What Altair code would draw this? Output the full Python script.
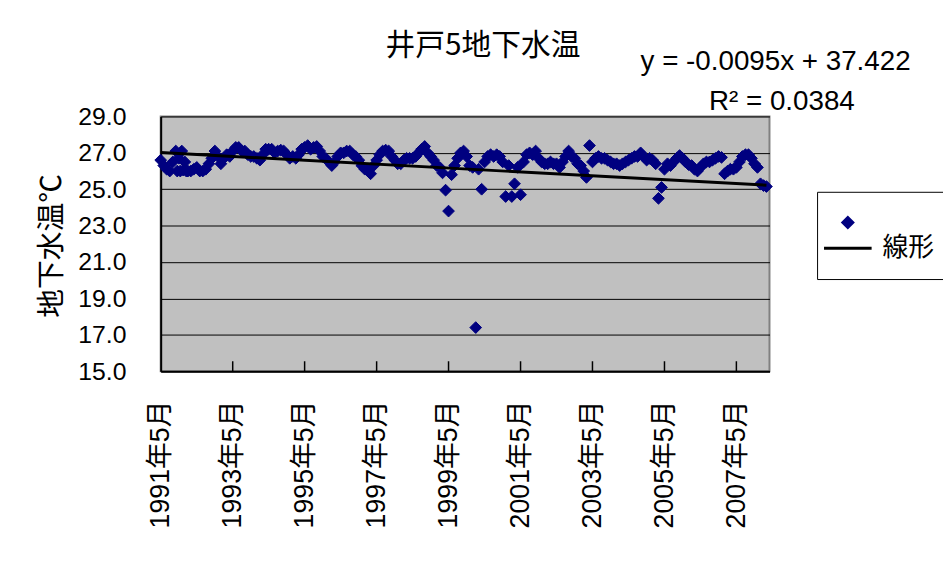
import altair as alt
import pandas as pd

# monthly groundwater temperature (deg C), from 1991-05 onward
temps = [
    26.6, 26.3, 26.1, 26.0, 26.5, 27.1, 26.7, 27.1, 26.5, 26.0, 26.0, 26.1,
    26.2, 26.0, 26.0, 26.1, 26.4, 26.7, 27.1, 26.8, 26.4, 26.7, 26.9, 26.8,
    27.1, 27.3, 27.3, 27.1, 27.1, 26.9, 26.8, 26.8, 26.7, 26.6, 26.9, 27.2,
    27.2, 27.2, 27.0, 27.1, 27.15, 27.1, 26.9, 26.7, 26.8, 26.7, 26.9, 27.2,
    27.3, 27.4, 27.2, 27.3, 27.35, 27.1, 26.8, 26.7, 26.5, 26.3, 26.5, 26.8,
    27.0, 27.0, 27.1, 27.1, 26.9, 26.8, 26.6, 26.3, 26.1, 26.0, 25.85, 26.3,
    26.6, 26.9, 27.1, 27.15, 27.1, 26.8, 26.6, 26.4, 26.4, 26.6, 26.7, 26.7,
    26.7, 26.8, 27.0, 27.2, 27.35, 27.0, 26.8, 26.6, 26.3, 26.2, 25.9, 24.95,
    23.8, 25.8, 26.3, 26.7, 27.0, 27.1, 26.8, 26.3, 26.2, 17.4, 26.1, 25.0,
    26.5, 26.8, 26.9, 26.8, 26.9, 26.8, 26.5, 24.6, 26.3, 24.6, 25.3, 26.2,
    24.7, 26.5, 26.9, 27.0, 26.9, 27.1, 26.7, 26.5, 26.4, 26.4, 26.5, 26.4,
    26.4, 26.2, 26.5, 26.8, 27.1, 26.8, 26.7, 26.4, 26.3, 26.0, 25.65, 27.4,
    26.5, 26.7, 26.8, 26.7, 26.7, 26.6, 26.5, 26.4, 26.4, 26.3, 26.4, 26.5,
    26.6, 26.7, 26.8, 26.8, 27.0, 26.8, 26.6, 26.7, 26.6, 26.4, 24.5, 25.1,
    26.1, 26.4, 26.3, 26.5, 26.7, 26.85, 26.7, 26.5, 26.35, 26.3, 26.1, 26.0,
    26.2, 26.4, 26.5, 26.5, 26.6, 26.7, 26.8, 26.75, 25.85, 26.0, 26.1, 26.1,
    26.2, 26.5, 26.8, 26.9, 26.9, 26.7, 26.4, 26.2, 25.3, 25.2, 25.15,
]
month_dates = pd.date_range("1991-05-01", periods=len(temps), freq="MS").strftime("%Y-%m-%d").tolist()

# additional mid-month readings
extra_dates = ["1991-10-16", "1991-11-16", "1991-12-16", "1992-01-16"]
extra_temps = [26.0, 26.0, 26.05, 26.0]

# linear trend (線形) end points
trend_dates = ["1991-05-01", "2008-03-01"]
trend_temps = [27.02, 25.22]

label_years = [1991, 1993, 1995, 1997, 1999, 2001, 2003, 2005, 2007]
tick_dates = ["1993-05-01", "1995-05-01", "1997-05-01", "1999-05-01",
              "2001-05-01", "2003-05-01", "2005-05-01", "2007-05-01"]
y_ticks = [15, 17, 19, 21, 23, 25, 27, 29]

title_text = "井戸5地下水温"
y_title = "地下水温℃"
eq_lines = ["y = -0.0095x + 37.422", "R² = 0.0384"]
series_names = ["s1", "線形"]

NAVY = "#000080"
FONT = "Liberation Sans, Noto Sans CJK JP"
CJK = "Noto Sans CJK JP"

pts = pd.DataFrame({
    "date": month_dates + extra_dates,
    "temp": temps + extra_temps,
    "series": "s1",
})
trend = pd.DataFrame({"date": trend_dates, "temp": trend_temps})
ticks = pd.DataFrame({"date": tick_dates, "y0": 15.0, "y1": 15.55})

x_scale = alt.Scale(
    type="utc",
    domain=[alt.DateTime(year=1991, month=5, date=1, utc=True),
            alt.DateTime(year=2008, month=4, date=1, utc=True)],
    nice=False,
)
y_scale = alt.Scale(domain=[15, 29], nice=False, zero=False)

x_axis = alt.Axis(
    values=[alt.DateTime(year=y, month=5, date=1, utc=True) for y in label_years],
    tickCount=20,
    labelExpr="utcFormat(datum.value, '%Y') + '年' + (utcmonth(datum.value) + 1) + '月'",
    labelAngle=270, labelAlign="right", labelBaseline="middle",
    labelPadding=29, labelFlush=False, labelOverlap=False,
    labelFont=FONT, labelFontSize=27, labelColor="black",
    ticks=False, grid=False, domainColor="black", domainWidth=2, title=None,
)
y_axis = alt.Axis(
    values=y_ticks, tickCount=20, format=".1f",
    labelPadding=35, labelFlush=False, labelOverlap=False,
    labelFont=FONT, labelFontSize=25, labelColor="black",
    ticks=False, grid=True, gridColor="black", gridWidth=1, gridOpacity=1,
    domainColor="black", domainWidth=2,
    title=y_title, titleFont=CJK, titleFontSize=29, titleFontWeight="normal",
    titleColor="black", titleAngle=270, titleX=-110, titleY=130, titleAlign="center",
    titleBaseline="middle",
)

legend = alt.Legend(
    title=None, orient="none", legendX=662, legendY=76,
    labelExpr="datum.label == 's1' ? '' : datum.label",
    strokeColor="black", padding=18, symbolSize=100, symbolStrokeWidth=3,
    symbolFillColor=NAVY, labelFont=CJK, labelFontSize=26, labelColor="black",
    labelOffset=22, rowPadding=-20,
)

points = alt.Chart(pts).mark_point(
    filled=True, fill=NAVY, size=140, strokeWidth=1, opacity=1
).encode(
    x=alt.X("date:T", scale=x_scale, axis=x_axis),
    y=alt.Y("temp:Q", scale=y_scale, axis=y_axis),
    shape=alt.Shape("series:N", scale=alt.Scale(domain=series_names, range=["diamond", "M-4.8,0H4.8"]), legend=legend),
    stroke=alt.Stroke("series:N", scale=alt.Scale(domain=series_names, range=[NAVY, "black"]), legend=legend),
)

trend_line = alt.Chart(trend).mark_line(color="black", strokeWidth=3).encode(
    x=alt.X("date:T", scale=x_scale),
    y=alt.Y("temp:Q", scale=y_scale),
)

inner_ticks = alt.Chart(ticks).mark_rule(color="black", strokeWidth=1.5).encode(
    x=alt.X("date:T", scale=x_scale),
    y=alt.Y("y0:Q", scale=y_scale),
    y2="y1:Q",
)

eq1 = alt.Chart(pd.DataFrame({"t": [eq_lines[0]]})).mark_text(
    align="left", baseline="middle", font=FONT, fontSize=28, color="black"
).encode(x=alt.value(484), y=alt.value(-55), text="t:N")
eq2 = alt.Chart(pd.DataFrame({"t": [eq_lines[1]]})).mark_text(
    align="left", baseline="middle", font=FONT, fontSize=28, color="black"
).encode(x=alt.value(553), y=alt.value(-15), text="t:N")

chart = alt.layer(inner_ticks, points, trend_line, eq1, eq2).properties(
    width=614, height=257,
    title=alt.TitleParams(title_text, font=CJK, fontSize=30, fontWeight="normal",
                          color="black", anchor="middle", frame="group", dx=18,
                          offset=0, dy=13),
    autosize=alt.AutoSizeParams(type="none"),
    padding={"left": 154, "top": 107, "right": 175, "bottom": 190},
).configure_view(
    fill="#C0C0C0", stroke="#808080", strokeWidth=2
)

chart.save("out.html", embed_options={"renderer": "svg", "actions": False})
